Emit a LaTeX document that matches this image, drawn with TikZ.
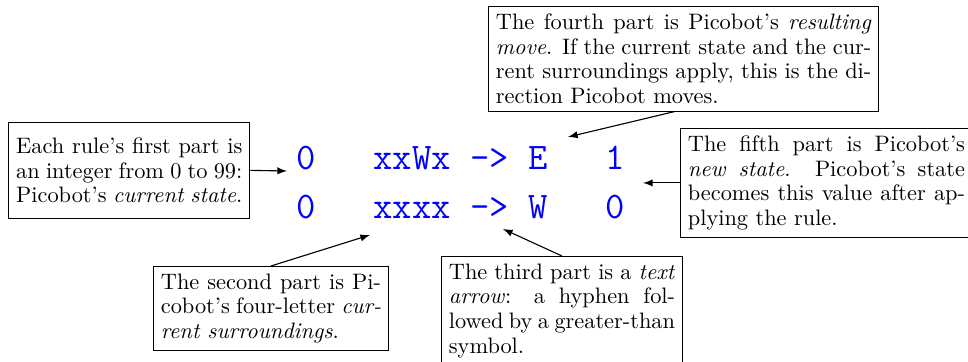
\documentclass[tikz,border=0pt]{standalone}
\usetikzlibrary{arrows.meta}
\begin{document}
\begin{tikzpicture}[x=0.4474pt,y=-0.4474pt,
  callout/.style={draw, fill=white, align=justify, inner sep=3.33pt, anchor=north west, font=\fontsize{10}{11}\selectfont},
  pointer/.style={-latex, line width=0.5pt},
  rule/.style={anchor=base west, inner sep=0pt, text=blue, font=\fontsize{16.8}{20}\ttfamily}]
\useasboundingbox (0,0) rectangle (968,362);
% rules
\node[rule] (rowA) at (295.6,170) {0\ \ \ xxWx\ ->\ E\ \ \ 1};
\node[rule] (rowB) at (295.6,218.5) {0\ \ \ xxxx\ ->\ W\ \ \ 0};
% pointer targets
\coordinate (t1) at (287,171);
\coordinate (t2) at (568,137);
\coordinate (t3) at (643,184);
\coordinate (t4) at (370,235);
\coordinate (t5) at (503,229);
% boxes
\node[callout, text width=101.2pt, inner ysep=7pt] (b1) at (8.3,121.7) {Each rule's first part is\linebreak an integer from 0 to 99:\linebreak Picobot's \emph{current state}.};
\node[callout, text width=168pt] (b4) at (488,6) {The fourth part is Picobot's \emph{resulting}\linebreak \emph{move}. If the current state and the cur-\linebreak rent surroundings apply, this is the di-\linebreak rection Picobot moves.};
\node[callout, text width=124pt] (b5) at (680,128) {The fifth part is Picobot's\linebreak \emph{new state}. Picobot's state\linebreak becomes this value after ap-\linebreak plying the rule.};
\node[callout, text width=98.5pt] (b2) at (153,266) {The second part is Pi-\linebreak cobot's four-letter \emph{cur-}\linebreak \emph{rent surroundings}.\par\vspace{20pt}};
\node[callout, text width=101.2pt] (b3) at (441,256) {The third part is a \emph{text}\linebreak \emph{arrow}: a hyphen fol-\linebreak lowed by a greater-than\linebreak symbol.\par\vspace{20pt}};
% connectors
\draw[pointer] (b1.east) -- (t1);
\draw[pointer] ([xshift=-4pt]b4.south) -- (t2);
\draw[pointer] (b5.west) -- (b5.west -| t3);
\draw[pointer] (b2.north) -- (t4);
\draw[pointer] (b3.north) -- (t5);
\end{tikzpicture}
\end{document}
